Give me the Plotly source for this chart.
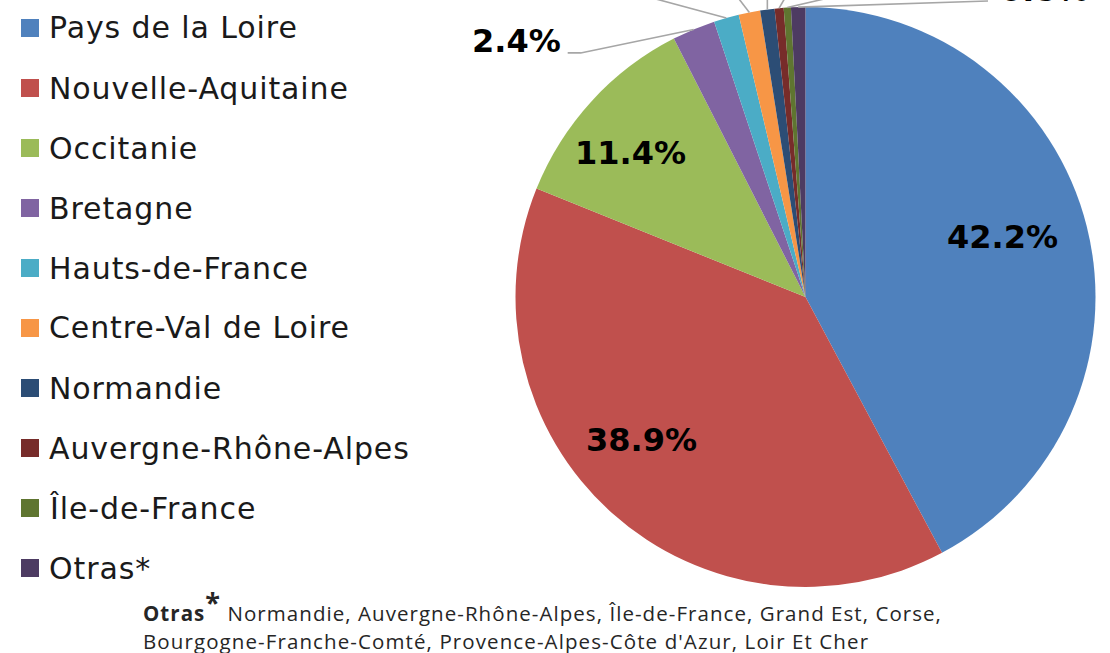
import numpy as np
import plotly.graph_objects as go

# ---------------- data ----------------
regions = ["Pays de la Loire", "Nouvelle-Aquitaine", "Occitanie", "Bretagne",
           "Hauts-de-France", "Centre-Val de Loire", "Normandie",
           "Auvergne-Rhône-Alpes", "Île-de-France", "Otras*"]
shares = [42.2, 38.9, 11.4, 2.4, 1.4, 1.2, 0.8, 0.5, 0.4, 0.8]
colors = ["#4F81BD", "#C0504D", "#9BBB59", "#8064A2", "#4BACC6",
          "#F79646", "#2C4D75", "#772C2A", "#5F7530", "#4D3B62"]
footnote_title = "Otras"
footnote_line1 = " Normandie, Auvergne-Rhône-Alpes, Île-de-France, Grand Est, Corse,"
footnote_line2 = "Bourgogne-Franche-Comté, Provence-Alpes-Côte d'Azur, Loir Et Cher"

# ---------------- geometry (layout) ----------------
W, H = 1110, 653
CX, CY, R = 805.5, 297.0, 290.0
dom_x = [(CX - R) / W, (CX + R) / W]
dom_y = [1 - (CY + R) / H, 1 - (CY - R) / H]

def to_paper(x, y):
    return x / W, 1 - y / H

vals = np.array(shares, dtype=float)
frac = vals / vals.sum()
mid_deg = (np.cumsum(frac) - frac / 2) * 360.0  # clockwise from 12 o'clock

def polar(theta_deg, r):
    t = np.radians(theta_deg)
    return CX + r * np.sin(t), CY - r * np.cos(t)

fig = go.Figure(go.Pie(
    labels=regions, values=shares, sort=False, direction="clockwise",
    rotation=0, marker=dict(colors=colors, line=dict(width=0)),
    textinfo="none", showlegend=False, hoverinfo="label+percent",
    domain=dict(x=dom_x, y=dom_y),
))

annotations = []
shapes = []
label_font = dict(family="DejaVu Sans", size=32, color="#000000", weight="bold")

# inside labels (three biggest slices)
inside_style = {0: (0.71, -3.0), 1: (0.75, 7.0), 2: (0.78, -3.0)}
for i, (rf, dth) in inside_style.items():
    x, y = polar(mid_deg[i] + dth, rf * R)
    px, py = to_paper(x, y)
    annotations.append(dict(x=px, y=py, xref="paper", yref="paper",
                            text=f"{shares[i]:.1f}%", showarrow=False,
                            font=label_font, xanchor="center", yanchor="middle"))

line_style = dict(color="#A6A6A6", width=1.6)

# Bretagne outside label with elbow leader line
hx, hy = polar(mid_deg[3], R)
ex, ey = hx - 113, hy + 23.5
tx, ty = ex - 13, ey
p = [to_paper(hx, hy), to_paper(ex, ey), to_paper(tx, ty)]
shapes.append(dict(type="path", xref="paper", yref="paper",
                   path=f"M {p[0][0]},{p[0][1]} L {p[1][0]},{p[1][1]} L {p[2][0]},{p[2][1]}",
                   line=line_style))
lx, ly = to_paper(tx - 5, ty - 12)
annotations.append(dict(x=lx, y=ly, xref="paper", yref="paper",
                        text=f"{shares[3]:.1f}%", showarrow=False,
                        font=label_font, xanchor="right", yanchor="middle"))

# leader lines for the small slices (their labels sit above the cropped top edge)
leader_dirs = {4: (-63, -17), 5: (-10, -13), 6: (0, -1), 7: (4, -7), 8: (30, -7)}
for i, (dx, dy) in leader_dirs.items():
    hx, hy = polar(mid_deg[i], R)
    t = (hy + 6) / (-dy)
    x0, y0 = to_paper(hx, hy)
    x1, y1 = to_paper(hx + dx * t, hy + dy * t)
    shapes.append(dict(type="line", xref="paper", yref="paper",
                       x0=x0, y0=y0, x1=x1, y1=y1, line=line_style))

# Otras: long flat leader line to the right label (label mostly above the top edge)
hx, hy = polar(mid_deg[9], R)
x0, y0 = to_paper(hx, hy)
x1, y1 = to_paper(988, 1)
shapes.append(dict(type="line", xref="paper", yref="paper",
                   x0=x0, y0=y0, x1=x1, y1=y1, line=line_style))
ox, oy = to_paper(998, -10)
annotations.append(dict(x=ox, y=oy, xref="paper", yref="paper",
                        text=f"{shares[9]:.1f}%", showarrow=False,
                        font=label_font, xanchor="left", yanchor="middle"))

# legend
for i, (name, col) in enumerate(zip(regions, colors)):
    yc = 28 + 60 * i
    x0, y0 = to_paper(21, yc - 9)
    x1, y1 = to_paper(39, yc + 9)
    shapes.append(dict(type="rect", xref="paper", yref="paper",
                       x0=x0, y0=y0, x1=x1, y1=y1,
                       fillcolor=col, line=dict(width=0)))
    tx, ty = to_paper(47, yc)
    annotations.append(dict(x=tx, y=ty, xref="paper", yref="paper",
                            text=f"<span style='letter-spacing:0.9px'>{name}</span>",
                            showarrow=False, xanchor="left", yanchor="middle",
                            font=dict(family="DejaVu Sans", size=30, color="#1a1a1a")))

# footnote
foot_font = dict(family="Open Sans", size=20.5, color="#262626")
fx, fy = to_paper(141, 629)
annotations.append(dict(
    x=fx, y=fy, xref="paper", yref="paper", showarrow=False,
    xanchor="left", yanchor="bottom", align="left",
    text=(f"<span style='letter-spacing:1.05px'><b>{footnote_title}</b>"
          f"<sup><span style='font-size:27px'><b>*</b></span></sup>{footnote_line1}</span>"),
    font=foot_font,
))
fx, fy = to_paper(141, 641)
annotations.append(dict(
    x=fx, y=fy, xref="paper", yref="paper", showarrow=False,
    xanchor="left", yanchor="middle", align="left",
    text=f"<span style='letter-spacing:1.1px'>{footnote_line2}</span>",
    font=foot_font,
))

fig.update_layout(
    width=W, height=H, margin=dict(l=0, r=0, t=0, b=0),
    paper_bgcolor="white", plot_bgcolor="white",
    annotations=annotations, shapes=shapes, showlegend=False,
)
fig.write_html("out.html")
